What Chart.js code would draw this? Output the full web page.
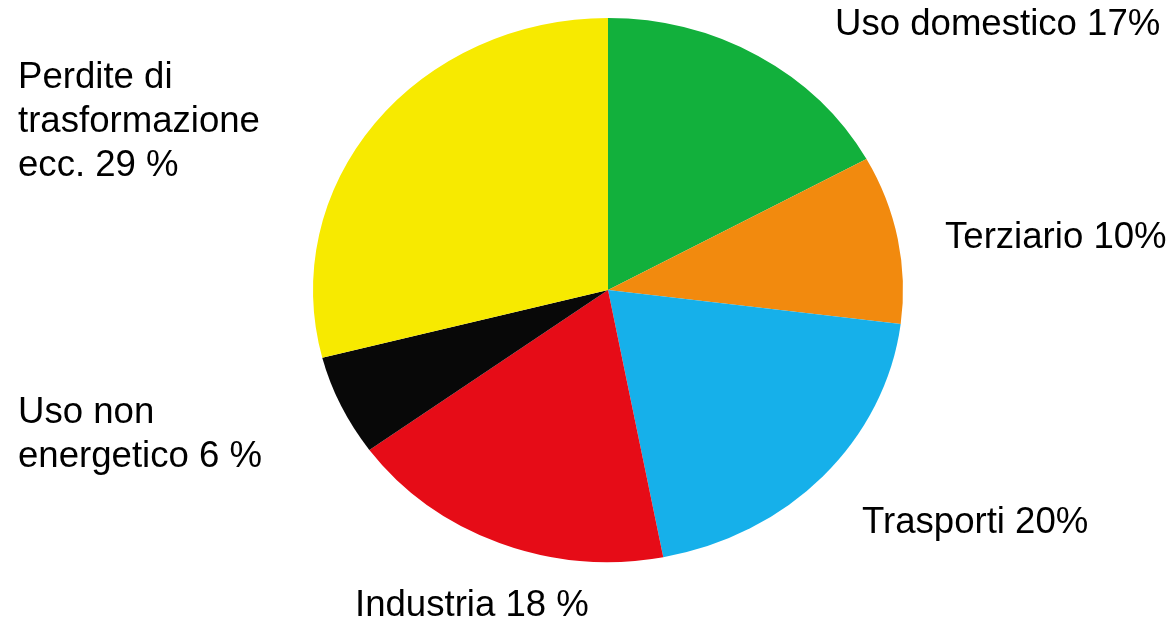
<!DOCTYPE html>
<html>
<head>
<meta charset="utf-8">
<script src="https://cdn.jsdelivr.net/npm/chart.js@4.4.1/dist/chart.umd.min.js"></script>
<style>
  html, body { margin: 0; padding: 0; background: #ffffff; }
  #wrap { position: relative; width: 1173px; height: 619px; }
  canvas { display: block; }
</style>
</head>
<body>
<div id="wrap"><canvas id="c" width="1173" height="619"></canvas></div>
<script>
// ---- data ----
const categories = ["Uso domestico", "Terziario", "Trasporti", "Industria", "Uso non energetico", "Perdite di trasformazione ecc."];
const values = [17, 10, 20, 18, 6, 29];
const labelLines = [
  ["Uso domestico 17%"],
  ["Terziario 10%"],
  ["Trasporti 20%"],
  ["Industria 18 %"],
  ["Uso non", "energetico 6 %"],
  ["Perdite di", "trasformazione", "ecc. 29 %"]
];

// ---- styling / layout (not data) ----
const colors = ["#12b03c", "#f28a0e", "#16b0ea", "#e60c17", "#080808", "#f7ea00"];
const labelAnchors = [
  { x: 835, y: 35 },
  { x: 945, y: 248 },
  { x: 862, y: 533 },
  { x: 355, y: 616 },
  { x: 18, y: 423 },
  { x: 18, y: 88 }
];
const lineGap = 44;
const FONT = '36.6px "Liberation Sans", Arial, sans-serif';
const pieCenterY = 290;
const pieScaleY = 272 / 295;

const ellipsePlugin = {
  id: 'ellipse',
  beforeDatasetsDraw(chart) {
    const ctx = chart.ctx;
    const a = chart.chartArea;
    const cx = (a.left + a.right) / 2;
    const cy = (a.top + a.bottom) / 2;
    ctx.save();
    ctx.translate(cx, pieCenterY);
    ctx.scale(1, pieScaleY);
    ctx.translate(-cx, -cy);
  },
  afterDatasetsDraw(chart) {
    chart.ctx.restore();
  }
};

const labelPlugin = {
  id: 'sliceLabels',
  afterDraw(chart) {
    const ctx = chart.ctx;
    ctx.save();
    ctx.font = FONT;
    ctx.fillStyle = '#000000';
    ctx.textAlign = 'left';
    ctx.textBaseline = 'alphabetic';
    labelLines.forEach((lines, i) => {
      const a = labelAnchors[i];
      lines.forEach((t, j) => ctx.fillText(t, a.x, a.y + j * lineGap));
    });
    ctx.restore();
  }
};

new Chart(document.getElementById('c'), {
  type: 'pie',
  data: {
    labels: categories,
    datasets: [{
      data: values,
      backgroundColor: colors,
      borderWidth: 0,
      radius: 295
    }]
  },
  options: {
    responsive: false,
    animation: false,
    devicePixelRatio: 1,
    layout: { padding: { left: 313, right: 270, top: 0, bottom: 29 } },
    plugins: {
      legend: { display: false },
      tooltip: { enabled: false }
    }
  },
  plugins: [ellipsePlugin, labelPlugin]
});
</script>
</body>
</html>
